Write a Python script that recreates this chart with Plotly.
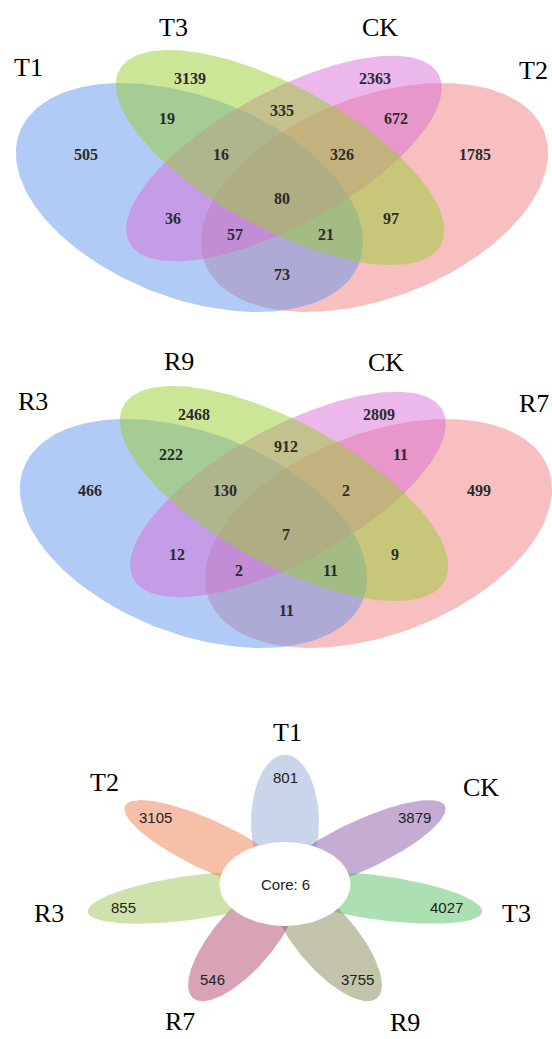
import numpy as np
import plotly.graph_objects as go

W, H = 552, 1039

# ---------------- data ----------------
# region codes: A..D are the four sets of a Venn panel, letters combined = intersection
venn_regions = ["A", "B", "C", "D", "AB", "BC", "CD", "AC", "BD", "AD",
                "ABC", "BCD", "ACD", "ABD", "ABCD"]

venn1_sets = ["T1", "T3", "CK", "T2"]
venn1_counts = [505, 3139, 2363, 1785, 19, 335, 672, 36, 97, 73, 16, 326, 57, 21, 80]

venn2_sets = ["R3", "R9", "CK", "R7"]
venn2_counts = [466, 2468, 2809, 499, 222, 912, 11, 12, 9, 11, 130, 2, 2, 11, 7]

flower_sets = ["T1", "CK", "T3", "R9", "R7", "R3", "T2"]
flower_counts = [801, 3879, 4027, 3755, 546, 855, 3105]
flower_core = 6

# ---------------- layout / style ----------------
# ellipse per set (pixel space of one Venn panel): centre, semi-axes, tilt (deg, clockwise)
VENN_ELLIPSES = [
    dict(cx=189.5, cy=197.5, a=182, b=100.6, ang=21.1, rgb=(100, 149, 237)),   # A
    dict(cx=280.0, cy=157.5, a=183, b=71.0, ang=28.6, rgb=(154, 205, 50)),     # B
    dict(cx=284.0, cy=158.5, a=176, b=67.0, ang=-28.6, rgb=(218, 112, 214)),   # C
    dict(cx=374.5, cy=197.5, a=182, b=100.6, ang=-21.1, rgb=(240, 128, 128)),  # D
]
DRAW_ORDER = [3, 0, 2, 1]

REGION_XY = {
    "A": (86, 154), "B": (190, 78), "C": (375, 78), "D": (475, 154),
    "AB": (167, 118), "BC": (282, 110), "CD": (396, 118),
    "AC": (173, 218), "BD": (391, 218), "AD": (282, 274),
    "ABC": (221, 154), "BCD": (342, 154), "ACD": (235, 234), "ABD": (326, 234),
    "ABCD": (282, 198),
}

PANELS = [
    dict(dx=0, dy=0, sets=venn1_sets, counts=venn1_counts,
         label_xy=[(28, 67), (173, 27), (380, 27), (533, 70)]),
    dict(dx=4, dy=336, sets=venn2_sets, counts=venn2_counts,
         label_xy=[(33, 401), (179, 361), (386, 362), (534, 403)]),
]

FLOWER_C = (285, 884)
FLOWER_SY = 0.64           # vertical squash of the flower
PETAL_D, PETAL_A, PETAL_B = 96, 106, 34
CORE_R = 65.5
PETAL_TEXT_R = 166
PETAL_RGB = [(150, 172, 218), (140, 90, 168), (90, 192, 100), (138, 138, 90),
             (180, 70, 110), (162, 198, 90), (238, 128, 80)]
FLOWER_LABEL_XY = [(287, 732), (481, 787), (516, 913), (405, 1022),
                   (180, 1021), (49, 913), (104, 782)]

SERIF = "Liberation Serif, Times New Roman, serif"
SANS = "Liberation Sans, Arial, sans-serif"


def ellipse_xy(cx, cy, a, b, ang_deg, n=240):
    t = np.linspace(0, 2 * np.pi, n)
    th = np.deg2rad(ang_deg)
    x = cx + a * np.cos(t) * np.cos(th) - b * np.sin(t) * np.sin(th)
    y = cy + a * np.cos(t) * np.sin(th) + b * np.sin(t) * np.cos(th)
    return x, y


fig = go.Figure()
annotations = []

# ---------------- four-set Venn panels ----------------
for p in PANELS:
    for i in DRAW_ORDER:
        e = VENN_ELLIPSES[i]
        x, y = ellipse_xy(e["cx"] + p["dx"], e["cy"] + p["dy"], e["a"], e["b"], e["ang"])
        r, g, b = e["rgb"]
        fig.add_trace(go.Scatter(x=x, y=y, mode="lines", fill="toself",
                                 fillcolor=f"rgba({r},{g},{b},0.5)",
                                 line=dict(width=0), hoverinfo="skip",
                                 showlegend=False))
    for code, val in zip(venn_regions, p["counts"]):
        rx, ry = REGION_XY[code]
        annotations.append(dict(x=rx + p["dx"], y=ry + p["dy"], text=str(val),
                                font=dict(family=SERIF, size=16, color="#2b2b2b",
                                          weight="bold")))
    for name, (lx, ly) in zip(p["sets"], p["label_xy"]):
        annotations.append(dict(x=lx, y=ly, text=name,
                                font=dict(family=SERIF, size=26, color="#000")))

# ---------------- flower plot ----------------
fx, fy = FLOWER_C
n = len(flower_sets)
angles = [90 - 360 * k / n for k in range(n)]
for k, ang in enumerate(angles):
    th = np.deg2rad(ang)
    t = np.linspace(0, 2 * np.pi, 240)
    u = PETAL_D + PETAL_A * np.cos(t)
    v = PETAL_B * np.sin(t)
    X = u * np.cos(th) - v * np.sin(th)
    Y = u * np.sin(th) + v * np.cos(th)
    r, g, b = PETAL_RGB[k]
    fig.add_trace(go.Scatter(x=fx + X, y=fy - FLOWER_SY * Y, mode="lines",
                             fill="toself", fillcolor=f"rgba({r},{g},{b},0.5)",
                             line=dict(width=0), hoverinfo="skip",
                             showlegend=False))
    annotations.append(dict(x=fx + PETAL_TEXT_R * np.cos(th),
                            y=fy - FLOWER_SY * PETAL_TEXT_R * np.sin(th),
                            text=str(flower_counts[k]),
                            font=dict(family=SANS, size=15, color="#222")))
    lx, ly = FLOWER_LABEL_XY[k]
    annotations.append(dict(x=lx, y=ly, text=flower_sets[k],
                            font=dict(family=SERIF, size=26, color="#000")))

t = np.linspace(0, 2 * np.pi, 240)
fig.add_trace(go.Scatter(x=fx + CORE_R * np.cos(t), y=fy - FLOWER_SY * CORE_R * np.sin(t),
                         mode="lines", fill="toself", fillcolor="white",
                         line=dict(width=0), hoverinfo="skip", showlegend=False))
annotations.append(dict(x=fx, y=fy, text=f"Core: {flower_core}",
                        font=dict(family=SANS, size=15, color="#222")))

for a in annotations:
    a.update(xref="x", yref="y", showarrow=False, xanchor="center", yanchor="middle")

fig.update_layout(width=W, height=H, margin=dict(l=0, r=0, t=0, b=0),
                  paper_bgcolor="white", plot_bgcolor="white",
                  annotations=annotations)
fig.update_xaxes(range=[0, W], visible=False, fixedrange=True)
fig.update_yaxes(range=[H, 0], visible=False, fixedrange=True)

fig.write_html("out.html")
